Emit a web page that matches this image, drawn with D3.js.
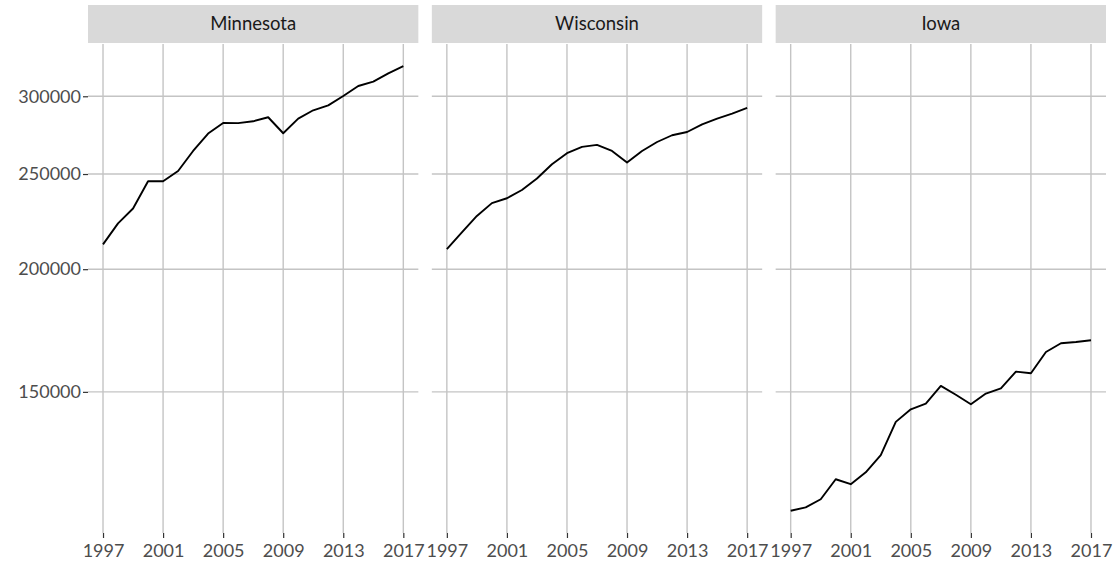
<!DOCTYPE html>
<html>
<head>
<meta charset="utf-8">
<script src="https://cdn.jsdelivr.net/npm/d3@7"></script>
<style>
  body { margin: 0; background: #fff; }
  text { font-family: "Lato", "DejaVu Sans", sans-serif; }
</style>
</head>
<body>
<svg id="svg"></svg>
<script>
// small multiples, shared log y scale

const width = 1120;
const height = 570;

const years = d3.range(1997, 2018);
const states = ["Minnesota", "Wisconsin", "Iowa"];

const minnesota = [212000, 222700, 230600, 245800, 245800, 251800, 263900, 274900, 281800, 281700,
  282900, 285600, 275100, 284700, 290300, 293700, 300200, 307300, 310500, 316600, 321900];
const wisconsin = [209600, 218000, 226600, 233500, 236200, 240800, 247400, 255800, 262500, 266400,
  267700, 263900, 256800, 263900, 269500, 273800, 275900, 280900, 284700, 288100, 291900];
const iowa = [113500, 114400, 116600, 122200, 120800, 124200, 129300, 139800, 144000, 145900,
  152100, 149000, 145700, 149400, 151200, 157300, 156700, 164700, 168100, 168600, 169300];

const yTicks = [150000, 200000, 250000, 300000];
const xTicks = [1997, 2001, 2005, 2009, 2013, 2017];

const series = { Minnesota: minnesota, Wisconsin: wisconsin, Iowa: iowa };

const margin = { top: 44, left: 88, bottom: 37, right: 14 };
const stripH = 39;
const gap = 13.5;
const panelW = (width - margin.left - margin.right - gap * 2) / 3;

const svg = d3.select("#svg").attr("width", width).attr("height", height);

// log domain with 5% expansion like ggplot
const allVals = [].concat(minnesota, wisconsin, iowa);
const lo = Math.log(d3.min(allVals));
const hi = Math.log(d3.max(allVals));
const pad = (hi - lo) * 0.05;

const y = d3.scaleLog()
  .domain([Math.exp(lo - pad), Math.exp(hi + pad)])
  .range([height - margin.bottom, margin.top]);

const x = d3.scaleLinear()
  .domain([1996, 2018])
  .range([0, panelW]);

const gridColor = "#c4c4c4";
const textColor = "#4d4d4d";

states.forEach((s, i) => {
  const g = svg.append("g")
    .attr("transform", `translate(${margin.left + i * (panelW + gap)},0)`);

  // strip
  g.append("rect")
    .attr("x", 0)
    .attr("y", margin.top - stripH)
    .attr("width", panelW)
    .attr("height", stripH - 1)
    .attr("fill", "#d9d9d9");

  g.append("text")
    .attr("x", panelW / 2)
    .attr("y", margin.top - stripH / 2 - 1)
    .attr("dy", "0.35em")
    .attr("text-anchor", "middle")
    .attr("fill", "#1a1a1a")
    .style("font-size", "18.5px")
    .text(s);

  // grid
  g.selectAll("line.hgrid")
    .data(yTicks)
    .join("line")
    .attr("class", "hgrid")
    .attr("x1", 0)
    .attr("x2", panelW)
    .attr("y1", (d) => y(d))
    .attr("y2", (d) => y(d))
    .attr("stroke", gridColor)
    .attr("stroke-width", 1.4);

  g.selectAll("line.vgrid")
    .data(xTicks)
    .join("line")
    .attr("class", "vgrid")
    .attr("x1", (d) => x(d))
    .attr("x2", (d) => x(d))
    .attr("y1", margin.top)
    .attr("y2", height - margin.bottom)
    .attr("stroke", gridColor)
    .attr("stroke-width", 1.4);

  // x axis
  const xAxis = d3.axisBottom(x)
    .tickValues(xTicks)
    .tickFormat(d3.format("d"))
    .tickSize(5)
    .tickPadding(6);

  const gx = g.append("g")
    .attr("transform", `translate(0,${height - margin.bottom})`)
    .call(xAxis);
  gx.select(".domain").remove();
  gx.selectAll(".tick line").attr("stroke", "#333").attr("stroke-width", 1.2);
  gx.selectAll(".tick text")
    .attr("fill", textColor)
    .style("font-size", "18px");

  // y axis only on first panel
  if (i === 0) {
    const yAxis = d3.axisLeft(y)
      .tickValues(yTicks)
      .tickFormat(d3.format("d"))
      .tickSize(5)
      .tickPadding(2);
    const gy = g.append("g").call(yAxis);
    gy.select(".domain").remove();
    gy.selectAll(".tick line").attr("stroke", "#333").attr("stroke-width", 1.2);
    gy.selectAll(".tick text")
      .attr("fill", textColor)
      .style("font-size", "18px");
  }

  // line
  const line = d3.line()
    .x((d, j) => x(years[j]))
    .y((d) => y(d));

  g.append("path")
    .datum(series[s])
    .attr("d", line)
    .attr("fill", "none")
    .attr("stroke", "#000")
    .attr("stroke-width", 1.9)
    .attr("stroke-linejoin", "round");
});
</script>
</body>
</html>
